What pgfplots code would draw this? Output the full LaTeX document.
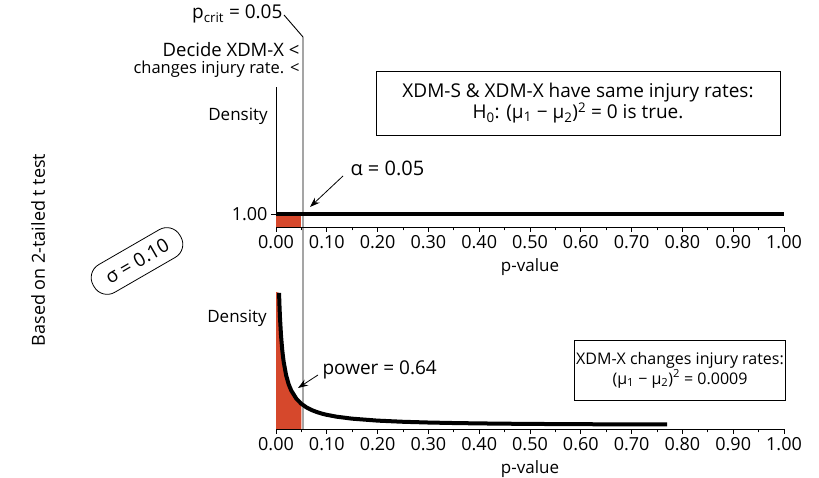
\documentclass[border=0pt]{standalone}
\usepackage{fontspec}
\setmainfont{Open Sans}
\usepackage{pgfplots}
\pgfplotsset{compat=1.18}
\usetikzlibrary{arrows.meta}
\definecolor{pred}{RGB}{214,72,44}
\pgfplotsset{myaxis/.style={
  scale only axis, width=508pt,
  xmin=0, xmax=1,
  axis x line*=bottom, axis y line*=left,
  axis line style={line width=0.8pt, -},
  tick align=outside,
  xtick={0,0.1,0.2,0.3,0.4,0.5,0.6,0.7,0.8,0.9,1.0},
  minor x tick num=1,
  major tick length=5pt, minor tick length=3.5pt,
  tick style={line width=0.8pt, black},
  /pgf/number format/assume math mode=true,
  xticklabel={\pgfmathprintnumber[fixed,fixed zerofill,precision=2]{\tick}},
  ticklabel style={font=\fontsize{18}{21}\selectfont},
  xlabel={p-value},
  xlabel style={font=\fontsize{17}{20}\selectfont, yshift=-3pt},
}}
\begin{document}
\begin{tikzpicture}[x=1pt,y=1pt, font=\fontsize{17}{20}\selectfont]
\useasboundingbox (0,0) rectangle (819,478);
% top axis
\begin{axis}[myaxis, at={(276pt,251pt)}, anchor=south west, height=140pt,
  ymin=0.9, ymax=1.977, ytick={1}, yticklabels={1.00}]
\addplot[fill=pred, draw=none] coordinates {(0,0.9) (0,1) (0.05,1) (0.05,0.9)} -- cycle;
\addplot[line width=3.5pt, black] coordinates {(0,1) (1,1)};
\end{axis}
% bottom axis
\begin{axis}[myaxis, at={(276pt,49pt)}, anchor=south west, height=137pt,
  ymin=-0.6, ymax=20.1, ytick=\empty]
\addplot[fill=pred, draw=none] coordinates {(0,-0.6) (0,20.1) (0.006,19.97) (0.007,17.75) (0.008,16.0) (0.01,13.40) (0.0125,11.16) (0.015,9.59) (0.02,7.49) (0.025,6.14) (0.03,5.21) (0.04,3.98) (0.05,3.20) (0.05,-0.6)} -- cycle;
\addplot[line width=4pt, black, line join=round] coordinates {(0.006,19.97) (0.007,17.75) (0.008,16.0) (0.01,13.40) (0.0125,11.16) (0.015,9.59) (0.02,7.49) (0.025,6.14) (0.03,5.21) (0.04,3.98) (0.05,3.20) (0.06,2.66) (0.07,2.27) (0.08,1.97) (0.09,1.73) (0.10,1.54) (0.12,1.25) (0.15,0.96) (0.20,0.664) (0.25,0.49) (0.30,0.378) (0.35,0.300) (0.40,0.244) (0.45,0.201) (0.50,0.169) (0.55,0.144) (0.60,0.124) (0.65,0.109) (0.70,0.097) (0.77,0.084)};
\end{axis}
% critical line
\draw[line width=0.9pt, black] (284,463) -- (303,441) -- (303,49);
\node[anchor=east, font=\fontsize{19}{22}\selectfont] at (286,464) {p\textsubscript{crit} = 0.05};
\node[anchor=east, font=\fontsize{18.5}{21}\selectfont] at (303,428) {Decide XDM-X <};
\node[anchor=east, font=\fontsize{16.5}{20}\selectfont] at (303,409) {changes injury rate. <};
\node at (238,362) {Density};
\node at (237,160) {Density};
\node[draw, line width=0.8pt, minimum width=404pt, minimum height=64pt, align=center, inner sep=2pt, font=\fontsize{19}{21}\selectfont] at (578,375)
  {XDM-S \& XDM-X have same injury rates:\\ H\textsubscript{0}: (μ\textsubscript{1} − μ\textsubscript{2})\textsuperscript{2} = 0 is true.};
\node[anchor=west, font=\fontsize{20}{23}\selectfont] at (347,310) {α = 0.05};
\draw[line width=0.8pt, -{Stealth[length=10pt,width=7pt]}] (343,302) -- (310,271);
\node[anchor=west, font=\fontsize{19}{22}\selectfont] at (319,108) {power = 0.64};
\draw[line width=0.8pt, -{Stealth[length=10pt,width=7pt]}] (318,103) -- (298,90);
\node[draw, line width=0.8pt, minimum width=201pt, minimum height=60pt, align=center, inner sep=2pt, font=\fontsize{16}{20}\selectfont] at (680,108)
  {XDM-X changes injury rates:\\ (μ\textsubscript{1} − μ\textsubscript{2})\textsuperscript{2} = 0.0009};
\node[rotate=90, font=\fontsize{18}{21}\selectfont] at (38,228) {Based on 2-tailed t test};
\node[draw, line width=0.8pt, rounded corners=15pt, rotate=30, minimum width=100pt, minimum height=32pt, inner sep=2pt, font=\fontsize{19}{22}\selectfont] at (137,217) {σ = 0.10};
\end{tikzpicture}
\end{document}
